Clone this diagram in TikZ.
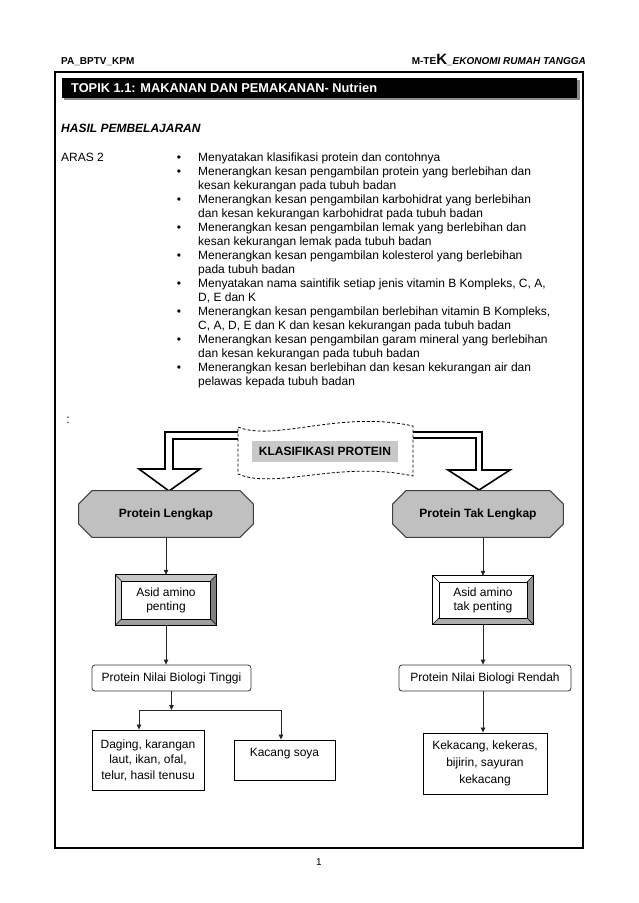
\documentclass[tikz,border=0pt]{standalone}
\usepackage{fontspec}
\setmainfont{Liberation Sans}
\usepackage{xcolor}
\usetikzlibrary{arrows.meta}
\definecolor{octgray}{HTML}{C0C0C0}
\definecolor{klasgray}{HTML}{C8C8C8}

\begin{document}
\begin{tikzpicture}[x=1pt,y=-1pt,
  txt/.style={inner sep=0pt, font=\fontsize{12}{14}\selectfont},
  hdr/.style={inner sep=0pt, font=\fontsize{10}{12}\selectfont\bfseries},
  octo/.style={rectangle, inner sep=0pt, font=\fontsize{12}{14}\selectfont\bfseries,
    path picture={
      \coordinate (pnw) at (path picture bounding box.north west);
      \coordinate (pne) at (path picture bounding box.north east);
      \coordinate (pse) at (path picture bounding box.south east);
      \coordinate (psw) at (path picture bounding box.south west);
      \filldraw[fill=octgray, draw=black!75, line width=1.1pt]
        ([shift={(14,0.6)}]pnw) -- ([shift={(-14,0.6)}]pne) -- ([shift={(-0.6,14)}]pne) -- ([shift={(-0.6,-14)}]pse)
        -- ([shift={(-14,-0.6)}]pse) -- ([shift={(14,-0.6)}]psw) -- ([shift={(0.6,-14)}]psw) -- ([shift={(0.6,14)}]pnw) -- cycle;
    }},
  bevel/.style={txt, align=center},
  roundbox/.style={txt, draw=black!80, line width=0.8pt, rounded corners=3pt},
  foodbox/.style={txt, draw=black, line width=0.9pt, align=center},
  blockarrow/.style={draw=black, line width=1.6pt, fill=white, line join=miter},
  flow/.style={draw=black!85, line width=0.8pt, -{Triangle[length=5pt,width=4.5pt]}}]
\useasboundingbox (0,0) rectangle (638,903);

% Header
\node[hdr, anchor=base west] (hdrL) at (61,64) {PA\_BPTV\_KPM};
\node[hdr, anchor=base east] (hdrR) at (586,64) {M-TE{\fontsize{15}{15}\selectfont K}\textit{\_EKONOMI RUMAH TANGGA}};

% Frame
\draw[line width=2.2pt] (55,72) rectangle (583,848);

% Title bar
\fill[black!45] (64,80) rectangle (580,100);
\fill[black] (62,78) rectangle (577,98);
\node[txt, anchor=west, text=white, font=\fontsize{12.8}{14}\selectfont\bfseries] (topik) at (71,88) {TOPIK 1.1: MAKANAN DAN PEMAKANAN- Nutrien};

\node[txt, anchor=west, font=\fontsize{12}{14}\selectfont\bfseries\itshape] (hasil) at (61,128) {HASIL PEMBELAJARAN};
\node[txt, anchor=base west] (aras) at (61,161) {ARAS 2};

% Learning outcomes
\foreach \isdot/\txt [count=\i] in {
  1/{Menyatakan klasifikasi protein dan contohnya},
  1/{Menerangkan kesan pengambilan protein yang berlebihan dan},
  0/{kesan kekurangan pada tubuh badan},
  1/{Menerangkan kesan pengambilan karbohidrat yang berlebihan},
  0/{dan kesan kekurangan karbohidrat pada tubuh badan},
  1/{Menerangkan kesan pengambilan lemak yang berlebihan dan},
  0/{kesan kekurangan lemak pada tubuh badan},
  1/{Menerangkan kesan pengambilan kolesterol yang berlebihan},
  0/{pada tubuh badan},
  1/{Menyatakan nama saintifik setiap jenis vitamin B Kompleks, C, A,},
  0/{D, E dan K},
  1/{Menerangkan kesan pengambilan berlebihan vitamin B Kompleks,},
  0/{C, A, D, E dan K dan kesan kekurangan pada tubuh badan},
  1/{Menerangkan kesan pengambilan garam mineral yang berlebihan},
  0/{dan kesan kekurangan pada tubuh badan},
  1/{Menerangkan kesan berlebihan dan kesan kekurangan air dan},
  0/{pelawas kepada tubuh badan}} {
  \node[txt, anchor=base west] (aim\i) at (198,{161+(\i-1)*14}) {\txt};
  \ifnum\isdot=1 \node[txt, anchor=base] (dot\i) at (179,{161+(\i-1)*14}) {•};\fi
}

\node[txt] (colon) at (68,420) {:};

% Hollow arrows
\draw[blockarrow] (238,432) -- (165,432) -- (165,469) -- (139,469) -- (169,491) -- (200,469) -- (173,469) -- (173,439) -- (238,439);
\draw[blockarrow] (413,432) -- (482,432) -- (482,470) -- (510,470) -- (479,490) -- (448,470) -- (476,470) -- (476,438) -- (413,438);

% Klasifikasi banner
\draw[fill=white, line width=0.8pt, dash pattern=on 3pt off 2pt] (238,427) .. controls (275,442) and (340,410) .. (413,426)
  -- (413,476) .. controls (340,460) and (275,490) .. (238,474) -- cycle;
\node[txt, fill=klasgray, minimum width=146pt, minimum height=21pt, font=\fontsize{12}{14}\selectfont\bfseries] (klas) at (325,451) {KLASIFIKASI PROTEIN};

% Protein types
\node[octo, minimum width=176pt, minimum height=48pt] (lengkap) at (166,514) {Protein Lengkap};
\node[octo, minimum width=172pt, minimum height=48pt] (taklengkap) at (478,514) {Protein Tak Lengkap};

% Amino acid boxes
\node[bevel, minimum width=101pt, minimum height=50pt] (asidL) at (166,600) {Asid amino\\penting};
\node[bevel, minimum width=100pt, minimum height=48pt] (asidR) at (483,600) {Asid amino\\tak penting};
\foreach \bx/\ct/\cr/\cb/\cl in {asidL/black!22/black!50/black!38/black!18, asidR/white/black!42/black!32/white} {
  \fill[\ct] (\bx.north west) -- (\bx.north east) -- ([shift={(-6,6)}]\bx.north east) -- ([shift={(6,6)}]\bx.north west) -- cycle;
  \fill[\cr] (\bx.north east) -- (\bx.south east) -- ([shift={(-6,-6)}]\bx.south east) -- ([shift={(-6,6)}]\bx.north east) -- cycle;
  \fill[\cb] (\bx.south east) -- (\bx.south west) -- ([shift={(6,-6)}]\bx.south west) -- ([shift={(-6,-6)}]\bx.south east) -- cycle;
  \fill[\cl] (\bx.south west) -- (\bx.north west) -- ([shift={(6,6)}]\bx.north west) -- ([shift={(6,-6)}]\bx.south west) -- cycle;
  \draw[line width=0.6pt] ([shift={(6,6)}]\bx.north west) rectangle ([shift={(-6,-6)}]\bx.south east);
  \foreach \c/\s in {north west/{(6,6)}, north east/{(-6,6)}, south east/{(-6,-6)}, south west/{(6,-6)}}
    \draw[line width=0.5pt] (\bx.\c) -- ([shift=\s]\bx.\c);
  \draw[line width=1.2pt] (\bx.north west) rectangle (\bx.south east);
}

% Biological value
\node[roundbox, minimum width=159pt, minimum height=26pt] (tinggi) at (171.5,678) {Protein Nilai Biologi Tinggi};
\node[roundbox, minimum width=172pt, minimum height=26pt] (rendah) at (485,678) {Protein Nilai Biologi Rendah};

% Food sources
\node[foodbox, minimum width=112pt, minimum height=60pt, font=\fontsize{12}{15.5}\selectfont] (daging) at (148,760) {Daging, karangan\\laut, ikan, ofal,\\telur, hasil tenusu};
\node[foodbox, minimum width=101pt, minimum height=40pt, font=\fontsize{12}{14.5}\selectfont] (soya) at (284.5,760) {Kacang soya\\\mbox{}};
\node[foodbox, minimum width=124pt, minimum height=61pt, font=\fontsize{12}{17}\selectfont] (kekacang) at (485,763.5) {Kekacang, kekeras,\\bijirin, sayuran\\kekacang};

% Connectors
\coordinate (splitL) at (139,710);
\coordinate (splitR) at (281,710);
\draw[flow] (lengkap.south) -- (lengkap.south |- asidL.north);
\draw[flow] (asidR.north |- taklengkap.south) -- (asidR.north);
\draw[flow] (asidL.south) -- (asidL.south |- tinggi.north);
\draw[flow] (asidR.south) -- (asidR.south |- rendah.north);
\draw[flow] (tinggi.south) -- (tinggi.south |- splitL);
\draw[flow] (splitL) -- (splitL |- daging.north);
\draw[flow] (splitL) -- (splitR) -- (splitR |- soya.north);
\draw[flow] (rendah.south -| asidR.south) -- (kekacang.north -| asidR.south);

% Page number
\node[txt, font=\fontsize{10}{12}\selectfont] (pagenum) at (319,862) {1};
\end{tikzpicture}
\end{document}
